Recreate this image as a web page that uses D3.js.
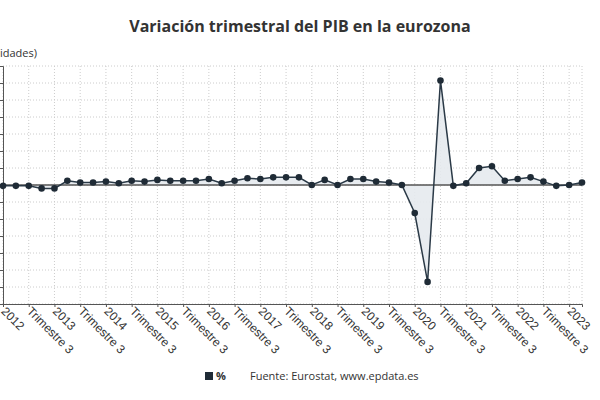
<!DOCTYPE html>
<html><head><meta charset="utf-8">
<script src="https://cdn.jsdelivr.net/npm/d3@7"></script>
<style>body{margin:0;background:#fff;font-family:"Open Sans",sans-serif}</style>
</head><body><svg></svg>
<script>
const years = d3.range(2012, 2024);
const quarters = [];
years.forEach(y => [1, 2, 3, 4].forEach(q => quarters.push({ y, q })));
quarters.length = 46; // 2012 T1 .. 2023 T2
const values = [-0.1, -0.1, -0.1, -0.4, -0.4, 0.5, 0.3, 0.3, 0.4, 0.2, 0.5, 0.4, 0.6, 0.5,
  0.5, 0.5, 0.7, 0.2, 0.5, 0.8, 0.7, 0.9, 0.9, 0.9, 0.0, 0.6, 0.0, 0.7, 0.7, 0.4,
  0.3, 0.0, -3.3, -11.4, 12.3, -0.1, 0.2, 2.0, 2.2, 0.5, 0.7, 0.9, 0.4, -0.1, 0.0, 0.3];
const yTicks = d3.range(-14, 15, 2);

const W = 600, H = 400;
const svg = d3.select('svg').attr('width', W).attr('height', H);
const x = d3.scaleLinear().domain([0, values.length - 1]).range([3, 582]);
const y = d3.scaleLinear().domain([-14, 14]).range([304, 66]);
const data = values.map((v, i) => ({ i, v }));

svg.append('text').attr('x', 300).attr('y', 32).attr('text-anchor', 'middle')
  .attr('font-size', 16).attr('font-weight', 'bold').attr('fill', '#333')
  .text('Variación trimestral del PIB en la eurozona');
svg.append('text').attr('x', 37).attr('y', 57).attr('text-anchor', 'end')
  .attr('font-size', 11).attr('fill', '#333').text('(Unidades)');

// grid
const tickIdx = d3.range(0, values.length, 2);
svg.append('g').selectAll('line').data(tickIdx).join('line')
  .attr('x1', d => x(d)).attr('x2', d => x(d)).attr('y1', 66).attr('y2', 304)
  .attr('stroke', '#ccc').attr('stroke-dasharray', '1,2');
svg.append('line').attr('x1', 582).attr('x2', 582).attr('y1', 66).attr('y2', 304)
  .attr('stroke', '#ccc').attr('stroke-dasharray', '1,2');
svg.append('g').selectAll('line').data(yTicks).join('line')
  .attr('x1', 3).attr('x2', 582).attr('y1', d => y(d)).attr('y2', d => y(d))
  .attr('stroke', '#ccc').attr('stroke-dasharray', '1,2');

// y axis (labels are off the left edge in the original)
svg.append('g').attr('transform', 'translate(3,0)')
  .call(d3.axisLeft(y).tickValues(yTicks).tickSize(4).tickFormat(''))
  .call(g => g.select('.domain').attr('stroke', '#555'))
  .call(g => g.selectAll('.tick line').attr('stroke', '#555'));

// x axis
const xa = svg.append('g').attr('transform', 'translate(0,304)')
  .call(d3.axisBottom(x).tickValues(tickIdx).tickSize(3)
    .tickFormat(d => quarters[d].q === 1 ? String(quarters[d].y) : 'Trimestre 3'));
xa.select('.domain').attr('stroke', '#555');
xa.selectAll('.tick line').attr('stroke', '#555');
xa.selectAll('text').attr('font-size', 12).attr('fill', '#333')
  .attr('text-anchor', 'start').attr('dy', 0).attr('y', 0)
  .attr('transform', 'translate(-3,8) rotate(45)');

// area + line
svg.append('path').datum(data)
  .attr('d', d3.area().x(d => x(d.i)).y0(y(0)).y1(d => y(d.v)))
  .attr('fill', '#e6eaee').attr('opacity', 0.9);
svg.append('line').attr('x1', 3).attr('x2', 582).attr('y1', y(0)).attr('y2', y(0))
  .attr('stroke', '#555').attr('stroke-width', 1.5);
svg.append('path').datum(data)
  .attr('d', d3.line().x(d => x(d.i)).y(d => y(d.v)))
  .attr('fill', 'none').attr('stroke', '#2b3a47').attr('stroke-width', 1.5);
svg.append('g').selectAll('circle').data(data).join('circle')
  .attr('cx', d => x(d.i)).attr('cy', d => y(d.v)).attr('r', 3.3).attr('fill', '#1f2b36');

// legend
svg.append('rect').attr('x', 205).attr('y', 372).attr('width', 8).attr('height', 8).attr('fill', '#1f2b36');
svg.append('text').attr('x', 216).attr('y', 380).attr('font-size', 11).attr('font-weight', 'bold')
  .attr('fill', '#333').text('%');
svg.append('text').attr('x', 250).attr('y', 380).attr('font-size', 11).attr('fill', '#333')
  .text('Fuente: Eurostat, www.epdata.es');
</script></body></html>
